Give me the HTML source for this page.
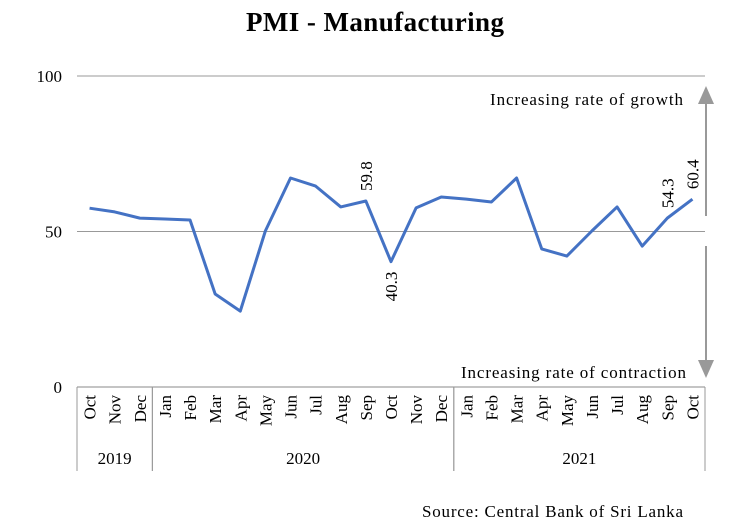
<!DOCTYPE html>
<html><head><meta charset="utf-8"><style>
body{margin:0;background:#fff;}
svg{display:block;font-family:"Liberation Serif",serif;}
</style></head><body>
<svg id="chart" width="750" height="522" xmlns="http://www.w3.org/2000/svg">
<text x="375" y="31" text-anchor="middle" font-size="27" font-weight="bold" textLength="258">PMI - Manufacturing</text>
<g id="grid"></g><g id="axis"></g><g id="marks"></g>
<g>
<line x1="706" y1="100" x2="706" y2="216" stroke="#999" stroke-width="2"/>
<polygon points="698,104 714,104 706,86" fill="#999"/>
</g>
<g>
<line x1="706" y1="246" x2="706" y2="364" stroke="#999" stroke-width="2"/>
<polygon points="698,360 714,360 706,378" fill="#999"/>
</g>
<text x="490" y="105" font-size="17" textLength="193">Increasing rate of growth</text>
<text x="461" y="378" font-size="17" textLength="225">Increasing rate of contraction</text>
<text x="422" y="517" font-size="17" textLength="261">Source: Central Bank of Sri Lanka</text>
</svg>
<script>
const months=["Oct","Nov","Dec","Jan","Feb","Mar","Apr","May","Jun","Jul","Aug","Sep","Oct","Nov","Dec","Jan","Feb","Mar","Apr","May","Jun","Jul","Aug","Sep","Oct"];
const pmi=[57.5,56.3,54.3,54.0,53.7,29.9,24.4,50.2,67.2,64.6,57.9,59.8,40.3,57.6,61.1,60.4,59.5,67.2,44.4,42.1,50.2,57.9,45.3,54.3,60.4];
const years=["2019","2020","2021"];
const yearSpans=[[0,3],[3,15],[15,25]];
const yTicks=[0,50,100];
const labeled=[11,12,23,24];
const NS="http://www.w3.org/2000/svg";
const x0=77,x1=705,y0=387,y100=76;
const bw=(x1-x0)/months.length;
const X=i=>x0+bw*(i+0.5);
const Y=v=>y0-(y0-y100)*v/100;
function mk(t,a,p){const e=document.createElementNS(NS,t);for(const k in a)e.setAttribute(k,a[k]);p.appendChild(e);return e;}
const grid=document.getElementById('grid'),axis=document.getElementById('axis'),marks=document.getElementById('marks');
yTicks.forEach(v=>{
 const l=mk('line',{x1:x0,x2:x1,y1:Y(v),y2:Y(v),stroke:v===0?'#888':'#999','stroke-width':1},grid);
 
 
 const t=mk('text',{x:62,y:Y(v)+6,'text-anchor':'end','font-size':17},axis);t.textContent=v;
 
 
});
months.forEach((m,i)=>{
 const t=mk('text',{transform:`translate(${X(i)+6},${y0+8}) rotate(-90)`,'text-anchor':'end','font-size':17},axis);t.textContent=m;
 
 
});
yearSpans.forEach((s,k)=>{
 [s[0],s[1]].forEach(b=>{mk('line',{x1:x0+bw*b,x2:x0+bw*b,y1:y0,y2:471,stroke:'#999'},axis);});
 const t=mk('text',{x:x0+bw*(s[0]+s[1])/2,y:464,'text-anchor':'middle','font-size':17},axis);t.textContent=years[k];
 
 
});
const p=mk('polyline',{points:pmi.map((v,i)=>X(i)+','+Y(v)).join(' '),fill:'none',stroke:'#4472C4','stroke-width':3,'stroke-linejoin':'round'},marks);


labeled.forEach(i=>{
 const below=i>0&&pmi[i]<pmi[i-1]&&pmi[i]<pmi[i+1];
 const y=below?Y(pmi[i])+10:Y(pmi[i])-10;
 const t=mk('text',{transform:`translate(${X(i)+6},${y}) rotate(-90)`,'text-anchor':below?'end':'start','font-size':17},marks);
 t.textContent=pmi[i].toFixed(1);
 
 
});
</script>
</body></html>
